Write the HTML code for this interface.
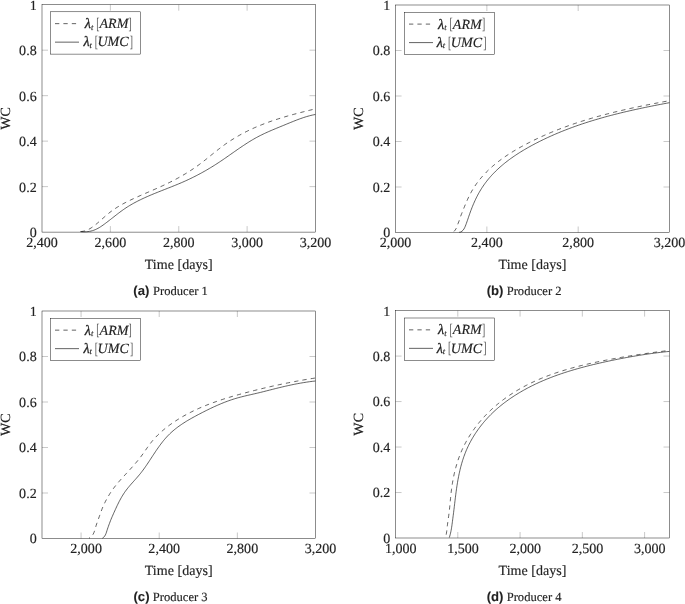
<!DOCTYPE html>
<html><head><meta charset="utf-8"><style>
html,body{margin:0;padding:0;background:#fff;}
svg{display:block;will-change:transform;}
text{text-rendering:geometricPrecision;}
.t{font-family:"Liberation Serif",serif;font-size:141.0px;fill:#222;stroke:#222;stroke-width:1.5px;}
.lt{font-family:"Liberation Serif",serif;font-size:141.0px;fill:#222;stroke:#222;stroke-width:1.5px;}
.it{font-style:italic;}
.sub{font-size:85.0px;}
.lam{font-size:143.0px;stroke-width:3.0px;}
.br{font-size:163.0px;stroke-width:0;fill:#555;}
.cap{font-family:"Liberation Serif",serif;font-size:126.0px;fill:#222;stroke:#222;stroke-width:1.5px;}
.bs{font-family:"Liberation Sans",sans-serif;font-weight:bold;font-size:132.0px;fill:#222;stroke:#222;stroke-width:0.75px;}
.ax{fill:none;stroke:#000;stroke-width:0.45;}
.lg{fill:#fff;stroke:#000;stroke-width:0.45;}
.tk{stroke:#777;stroke-width:0.4;}
.cs{fill:none;stroke:#000;stroke-width:0.62;stroke-linejoin:round;}
.cd{fill:none;stroke:#000;stroke-width:0.62;stroke-dasharray:4.3 4.1;stroke-linejoin:round;}
</style></head><body>
<svg width="685" height="604" viewBox="0 0 685 604">
<line x1="110.38" y1="232.10" x2="110.38" y2="226.10" class="tk"/>
<line x1="110.38" y1="4.70" x2="110.38" y2="10.70" class="tk"/>
<line x1="178.75" y1="232.10" x2="178.75" y2="226.10" class="tk"/>
<line x1="178.75" y1="4.70" x2="178.75" y2="10.70" class="tk"/>
<line x1="247.12" y1="232.10" x2="247.12" y2="226.10" class="tk"/>
<line x1="247.12" y1="4.70" x2="247.12" y2="10.70" class="tk"/>
<line x1="42.00" y1="186.62" x2="48.00" y2="186.62" class="tk"/>
<line x1="315.50" y1="186.62" x2="309.50" y2="186.62" class="tk"/>
<line x1="42.00" y1="141.14" x2="48.00" y2="141.14" class="tk"/>
<line x1="315.50" y1="141.14" x2="309.50" y2="141.14" class="tk"/>
<line x1="42.00" y1="95.66" x2="48.00" y2="95.66" class="tk"/>
<line x1="315.50" y1="95.66" x2="309.50" y2="95.66" class="tk"/>
<line x1="42.00" y1="50.18" x2="48.00" y2="50.18" class="tk"/>
<line x1="315.50" y1="50.18" x2="309.50" y2="50.18" class="tk"/>
<path d="M80.01,231.62 L81.56,231.53 L83.06,231.32 L84.52,230.98 L85.94,230.53 L87.32,229.99 L88.67,229.35 L89.98,228.63 L91.27,227.84 L92.52,227.00 L93.76,226.10 L94.97,225.16 L96.16,224.20 L97.34,223.21 L98.50,222.21 L99.65,221.21 L100.80,220.19 L101.93,219.18 L103.07,218.16 L104.21,217.15 L105.35,216.15 L106.49,215.16 L107.65,214.19 L108.81,213.23 L109.99,212.29 L111.18,211.38 L112.39,210.49 L113.62,209.62 L114.86,208.78 L116.11,207.95 L117.38,207.15 L118.66,206.37 L119.95,205.60 L121.25,204.85 L122.56,204.12 L123.89,203.40 L125.22,202.69 L126.56,202.00 L127.91,201.32 L129.26,200.66 L130.62,200.00 L131.99,199.35 L133.36,198.71 L134.74,198.08 L136.12,197.45 L137.50,196.83 L138.88,196.21 L140.27,195.60 L141.66,194.99 L143.05,194.38 L144.44,193.78 L145.83,193.17 L147.22,192.57 L148.61,191.96 L150.00,191.36 L151.39,190.75 L152.78,190.15 L154.17,189.54 L155.56,188.93 L156.95,188.31 L158.34,187.69 L159.72,187.07 L161.10,186.44 L162.48,185.81 L163.86,185.17 L165.24,184.52 L166.61,183.87 L167.98,183.21 L169.35,182.54 L170.71,181.86 L172.07,181.17 L173.43,180.47 L174.78,179.77 L176.12,179.05 L177.47,178.33 L178.80,177.59 L180.13,176.85 L181.46,176.10 L182.78,175.33 L184.10,174.56 L185.41,173.77 L186.71,172.98 L188.00,172.18 L189.29,171.36 L190.58,170.54 L191.85,169.70 L193.12,168.86 L194.38,168.00 L195.63,167.13 L196.87,166.26 L198.11,165.37 L199.34,164.47 L200.55,163.55 L201.76,162.63 L202.97,161.71 L204.17,160.77 L205.36,159.83 L206.55,158.88 L207.74,157.93 L208.92,156.98 L210.10,156.03 L211.28,155.07 L212.46,154.12 L213.64,153.17 L214.82,152.22 L216.01,151.27 L217.19,150.33 L218.38,149.40 L219.58,148.47 L220.77,147.55 L221.98,146.64 L223.19,145.74 L224.41,144.85 L225.63,143.98 L226.87,143.12 L228.11,142.26 L229.36,141.43 L230.62,140.60 L231.88,139.79 L233.16,138.99 L234.44,138.20 L235.73,137.42 L237.02,136.66 L238.32,135.90 L239.63,135.16 L240.95,134.43 L242.27,133.71 L243.60,133.01 L244.94,132.31 L246.28,131.63 L247.64,130.96 L248.99,130.29 L250.35,129.64 L251.72,129.00 L253.10,128.38 L254.48,127.76 L255.87,127.15 L257.26,126.56 L258.66,125.97 L260.06,125.39 L261.47,124.83 L262.88,124.27 L264.30,123.72 L265.72,123.19 L267.15,122.66 L268.58,122.14 L270.02,121.63 L271.45,121.12 L272.90,120.63 L274.34,120.14 L275.79,119.66 L277.24,119.19 L278.69,118.73 L280.15,118.27 L281.61,117.82 L283.07,117.38 L284.53,116.94 L285.99,116.51 L287.46,116.09 L288.92,115.67 L290.39,115.25 L291.86,114.85 L293.33,114.44 L294.80,114.05 L296.27,113.66 L297.74,113.27 L299.21,112.88 L300.68,112.51 L302.14,112.13 L303.61,111.76 L305.08,111.39 L306.54,111.03 L308.01,110.67 L309.47,110.31 L310.93,109.95 L312.39,109.60 L313.85,109.25 L315.30,108.90" class="cd" stroke-dashoffset="-0.8"/>
<path d="M80.40,231.60 L81.93,231.72 L83.46,231.79 L84.98,231.79 L86.50,231.72 L88.00,231.59 L89.49,231.37 L90.97,231.07 L92.42,230.69 L93.85,230.21 L95.25,229.66 L96.62,229.03 L97.96,228.33 L99.28,227.58 L100.57,226.77 L101.84,225.93 L103.10,225.06 L104.34,224.16 L105.56,223.25 L106.78,222.33 L107.99,221.41 L109.18,220.48 L110.38,219.55 L111.56,218.62 L112.75,217.69 L113.93,216.76 L115.11,215.83 L116.30,214.91 L117.48,213.99 L118.67,213.08 L119.87,212.18 L121.07,211.29 L122.28,210.41 L123.49,209.55 L124.72,208.70 L125.96,207.87 L127.22,207.05 L128.49,206.25 L129.77,205.47 L131.06,204.71 L132.36,203.96 L133.68,203.22 L135.01,202.50 L136.34,201.80 L137.69,201.10 L139.04,200.42 L140.41,199.75 L141.78,199.09 L143.16,198.44 L144.54,197.81 L145.93,197.18 L147.33,196.56 L148.74,195.95 L150.14,195.34 L151.56,194.74 L152.98,194.15 L154.40,193.57 L155.82,192.99 L157.25,192.41 L158.68,191.84 L160.11,191.27 L161.54,190.70 L162.97,190.14 L164.40,189.58 L165.83,189.02 L167.26,188.45 L168.69,187.89 L170.11,187.33 L171.54,186.76 L172.96,186.20 L174.38,185.62 L175.79,185.05 L177.20,184.47 L178.60,183.89 L180.00,183.30 L181.39,182.71 L182.78,182.11 L184.15,181.50 L185.53,180.88 L186.89,180.26 L188.25,179.63 L189.60,178.99 L190.94,178.35 L192.28,177.69 L193.62,177.03 L194.95,176.36 L196.27,175.69 L197.59,175.00 L198.90,174.31 L200.21,173.61 L201.52,172.90 L202.82,172.18 L204.11,171.45 L205.41,170.72 L206.70,169.98 L207.98,169.22 L209.26,168.46 L210.54,167.69 L211.82,166.92 L213.10,166.13 L214.37,165.33 L215.64,164.52 L216.91,163.71 L218.17,162.89 L219.44,162.05 L220.70,161.21 L221.97,160.36 L223.23,159.50 L224.49,158.63 L225.75,157.76 L227.01,156.88 L228.27,156.00 L229.53,155.12 L230.80,154.23 L232.06,153.35 L233.32,152.46 L234.59,151.57 L235.85,150.69 L237.12,149.81 L238.39,148.93 L239.66,148.06 L240.93,147.19 L242.21,146.33 L243.49,145.47 L244.77,144.63 L246.05,143.79 L247.34,142.96 L248.63,142.15 L249.92,141.35 L251.22,140.56 L252.52,139.78 L253.83,139.02 L255.14,138.27 L256.46,137.55 L257.78,136.83 L259.10,136.14 L260.43,135.46 L261.77,134.80 L263.11,134.15 L264.45,133.51 L265.80,132.89 L267.15,132.27 L268.51,131.66 L269.87,131.07 L271.24,130.48 L272.61,129.89 L273.98,129.31 L275.36,128.74 L276.74,128.16 L278.13,127.59 L279.52,127.02 L280.91,126.45 L282.31,125.88 L283.71,125.30 L285.11,124.72 L286.52,124.14 L287.93,123.56 L289.35,122.98 L290.77,122.39 L292.19,121.82 L293.61,121.24 L295.04,120.68 L296.47,120.12 L297.90,119.57 L299.34,119.04 L300.78,118.52 L302.22,118.02 L303.66,117.53 L305.11,117.06 L306.56,116.62 L308.01,116.20 L309.46,115.80 L310.92,115.43 L312.38,115.08 L313.84,114.77 L315.30,114.49" class="cs"/>
<rect x="42.00" y="4.70" width="273.50" height="227.40" class="ax"/>
<rect x="50.50" y="11.80" width="90" height="42.3" class="lg"/>
<line x1="55.00" y1="23.65" x2="76.50" y2="23.65" class="cd lgl"/>
<line x1="55.00" y1="42.15" x2="79.00" y2="42.15" class="cs lgl"/>
<line x1="486.87" y1="232.50" x2="486.87" y2="226.50" class="tk"/>
<line x1="486.87" y1="5.00" x2="486.87" y2="11.00" class="tk"/>
<line x1="578.18" y1="232.50" x2="578.18" y2="226.50" class="tk"/>
<line x1="578.18" y1="5.00" x2="578.18" y2="11.00" class="tk"/>
<line x1="395.55" y1="187.00" x2="401.55" y2="187.00" class="tk"/>
<line x1="669.50" y1="187.00" x2="663.50" y2="187.00" class="tk"/>
<line x1="395.55" y1="141.50" x2="401.55" y2="141.50" class="tk"/>
<line x1="669.50" y1="141.50" x2="663.50" y2="141.50" class="tk"/>
<line x1="395.55" y1="96.00" x2="401.55" y2="96.00" class="tk"/>
<line x1="669.50" y1="96.00" x2="663.50" y2="96.00" class="tk"/>
<line x1="395.55" y1="50.50" x2="401.55" y2="50.50" class="tk"/>
<line x1="669.50" y1="50.50" x2="663.50" y2="50.50" class="tk"/>
<path d="M452.90,232.30 L454.16,231.28 L455.15,230.14 L455.93,228.90 L456.56,227.58 L457.10,226.21 L457.61,224.79 L458.13,223.36 L458.70,221.92 L459.24,220.49 L459.72,219.06 L460.18,217.64 L460.67,216.23 L461.20,214.82 L461.76,213.41 L462.33,211.99 L462.90,210.57 L463.47,209.15 L464.04,207.73 L464.62,206.31 L465.20,204.89 L465.80,203.48 L466.40,202.07 L467.02,200.67 L467.64,199.28 L468.28,197.89 L468.94,196.52 L469.61,195.16 L470.31,193.82 L471.02,192.48 L471.75,191.17 L472.51,189.87 L473.28,188.59 L474.08,187.32 L474.90,186.07 L475.74,184.84 L476.59,183.62 L477.47,182.42 L478.37,181.24 L479.28,180.07 L480.22,178.91 L481.17,177.77 L482.14,176.65 L483.13,175.54 L484.13,174.44 L485.15,173.36 L486.18,172.29 L487.24,171.24 L488.30,170.20 L489.38,169.18 L490.48,168.16 L491.59,167.16 L492.71,166.18 L493.85,165.20 L495.00,164.24 L496.17,163.29 L497.34,162.36 L498.53,161.43 L499.73,160.52 L500.93,159.62 L502.15,158.73 L503.38,157.85 L504.63,156.98 L505.87,156.13 L507.13,155.28 L508.40,154.44 L509.68,153.62 L510.96,152.80 L512.25,152.00 L513.55,151.20 L514.86,150.42 L516.17,149.64 L517.49,148.88 L518.81,148.12 L520.14,147.37 L521.47,146.63 L522.81,145.90 L524.15,145.17 L525.50,144.46 L526.85,143.75 L528.20,143.05 L529.55,142.36 L530.91,141.67 L532.27,140.99 L533.63,140.32 L535.00,139.66 L536.37,139.00 L537.74,138.35 L539.11,137.71 L540.49,137.08 L541.86,136.45 L543.24,135.83 L544.62,135.21 L546.01,134.60 L547.40,134.00 L548.78,133.41 L550.18,132.82 L551.57,132.24 L552.97,131.66 L554.36,131.09 L555.76,130.53 L557.17,129.98 L558.57,129.43 L559.98,128.88 L561.38,128.34 L562.79,127.81 L564.21,127.29 L565.62,126.77 L567.04,126.25 L568.46,125.74 L569.88,125.24 L571.30,124.74 L572.72,124.25 L574.15,123.76 L575.57,123.28 L577.00,122.81 L578.43,122.33 L579.87,121.87 L581.30,121.41 L582.73,120.95 L584.17,120.50 L585.61,120.06 L587.05,119.62 L588.49,119.18 L589.94,118.75 L591.38,118.32 L592.83,117.90 L594.28,117.48 L595.73,117.07 L597.18,116.66 L598.63,116.26 L600.08,115.86 L601.54,115.46 L602.99,115.07 L604.45,114.68 L605.91,114.30 L607.37,113.92 L608.83,113.55 L610.29,113.17 L611.75,112.81 L613.22,112.44 L614.68,112.08 L616.15,111.72 L617.61,111.37 L619.08,111.02 L620.55,110.67 L622.02,110.33 L623.49,109.99 L624.96,109.65 L626.44,109.32 L627.91,108.99 L629.39,108.66 L630.86,108.33 L632.34,108.01 L633.81,107.69 L635.29,107.38 L636.77,107.06 L638.25,106.75 L639.73,106.44 L641.21,106.14 L642.69,105.83 L644.17,105.53 L645.65,105.23 L647.13,104.93 L648.61,104.64 L650.10,104.35 L651.58,104.06 L653.06,103.77 L654.55,103.48 L656.03,103.19 L657.52,102.91 L659.00,102.63 L660.49,102.35 L661.97,102.07 L663.46,101.79 L664.94,101.52 L666.43,101.24 L667.91,100.97 L669.40,100.70" class="cd" stroke-dashoffset="-1.2"/>
<path d="M459.21,232.30 L460.74,231.99 L462.01,231.26 L463.06,230.23 L463.94,228.99 L464.66,227.65 L465.29,226.25 L465.85,224.81 L466.38,223.37 L466.89,221.94 L467.39,220.51 L467.88,219.09 L468.36,217.66 L468.84,216.24 L469.33,214.82 L469.83,213.40 L470.34,211.98 L470.87,210.56 L471.41,209.13 L471.96,207.71 L472.53,206.29 L473.11,204.87 L473.72,203.46 L474.33,202.06 L474.97,200.66 L475.62,199.27 L476.29,197.88 L476.98,196.51 L477.68,195.15 L478.40,193.81 L479.15,192.48 L479.91,191.16 L480.69,189.86 L481.50,188.57 L482.32,187.30 L483.16,186.05 L484.02,184.81 L484.90,183.59 L485.79,182.39 L486.71,181.20 L487.64,180.03 L488.59,178.87 L489.56,177.73 L490.54,176.60 L491.54,175.49 L492.55,174.39 L493.58,173.31 L494.63,172.24 L495.69,171.18 L496.76,170.14 L497.85,169.11 L498.95,168.10 L500.07,167.09 L501.19,166.11 L502.33,165.13 L503.49,164.17 L504.65,163.21 L505.83,162.28 L507.02,161.35 L508.21,160.43 L509.42,159.53 L510.64,158.64 L511.87,157.76 L513.11,156.89 L514.36,156.03 L515.61,155.19 L516.88,154.35 L518.15,153.52 L519.43,152.71 L520.72,151.90 L522.01,151.11 L523.31,150.32 L524.62,149.54 L525.94,148.78 L527.25,148.02 L528.58,147.27 L529.91,146.53 L531.24,145.79 L532.58,145.07 L533.92,144.35 L535.27,143.65 L536.62,142.95 L537.97,142.25 L539.32,141.57 L540.68,140.89 L542.04,140.22 L543.41,139.56 L544.77,138.91 L546.14,138.26 L547.52,137.62 L548.89,136.99 L550.27,136.36 L551.65,135.74 L553.03,135.13 L554.42,134.53 L555.81,133.93 L557.20,133.34 L558.60,132.75 L559.99,132.17 L561.39,131.60 L562.80,131.04 L564.20,130.48 L565.61,129.93 L567.02,129.38 L568.43,128.84 L569.84,128.31 L571.26,127.78 L572.68,127.26 L574.10,126.74 L575.52,126.24 L576.95,125.73 L578.37,125.23 L579.80,124.74 L581.23,124.25 L582.67,123.77 L584.10,123.30 L585.54,122.83 L586.98,122.36 L588.42,121.90 L589.86,121.45 L591.31,121.00 L592.75,120.55 L594.20,120.12 L595.65,119.68 L597.10,119.25 L598.55,118.83 L600.01,118.41 L601.46,117.99 L602.92,117.58 L604.38,117.17 L605.84,116.77 L607.30,116.37 L608.76,115.98 L610.22,115.59 L611.69,115.21 L613.15,114.83 L614.62,114.45 L616.09,114.08 L617.56,113.71 L619.03,113.34 L620.50,112.98 L621.98,112.62 L623.45,112.27 L624.92,111.92 L626.40,111.57 L627.87,111.23 L629.35,110.89 L630.83,110.55 L632.31,110.21 L633.79,109.88 L635.27,109.56 L636.75,109.23 L638.23,108.91 L639.71,108.59 L641.19,108.27 L642.67,107.96 L644.16,107.65 L645.64,107.34 L647.12,107.03 L648.61,106.73 L650.09,106.43 L651.58,106.13 L653.06,105.84 L654.55,105.54 L656.03,105.25 L657.52,104.96 L659.00,104.67 L660.49,104.38 L661.97,104.10 L663.46,103.82 L664.94,103.53 L666.43,103.25 L667.92,102.98 L669.40,102.70" class="cs"/>
<rect x="395.55" y="5.00" width="273.95" height="227.50" class="ax"/>
<rect x="404.50" y="12.25" width="90" height="42.3" class="lg"/>
<line x1="409.00" y1="24.10" x2="430.50" y2="24.10" class="cd lgl"/>
<line x1="409.00" y1="42.60" x2="433.00" y2="42.60" class="cs lgl"/>
<line x1="81.07" y1="538.50" x2="81.07" y2="532.50" class="tk"/>
<line x1="81.07" y1="311.00" x2="81.07" y2="317.00" class="tk"/>
<line x1="159.21" y1="538.50" x2="159.21" y2="532.50" class="tk"/>
<line x1="159.21" y1="311.00" x2="159.21" y2="317.00" class="tk"/>
<line x1="237.36" y1="538.50" x2="237.36" y2="532.50" class="tk"/>
<line x1="237.36" y1="311.00" x2="237.36" y2="317.00" class="tk"/>
<line x1="42.00" y1="493.00" x2="48.00" y2="493.00" class="tk"/>
<line x1="315.50" y1="493.00" x2="309.50" y2="493.00" class="tk"/>
<line x1="42.00" y1="447.50" x2="48.00" y2="447.50" class="tk"/>
<line x1="315.50" y1="447.50" x2="309.50" y2="447.50" class="tk"/>
<line x1="42.00" y1="402.00" x2="48.00" y2="402.00" class="tk"/>
<line x1="315.50" y1="402.00" x2="309.50" y2="402.00" class="tk"/>
<line x1="42.00" y1="356.50" x2="48.00" y2="356.50" class="tk"/>
<line x1="315.50" y1="356.50" x2="309.50" y2="356.50" class="tk"/>
<path d="M89.11,538.11 L90.45,537.40 L91.58,536.42 L92.51,535.25 L93.29,533.94 L93.93,532.56 L94.48,531.14 L94.95,529.71 L95.37,528.26 L95.78,526.80 L96.20,525.34 L96.66,523.89 L97.16,522.44 L97.67,520.99 L98.20,519.56 L98.73,518.12 L99.25,516.70 L99.75,515.28 L100.25,513.86 L100.75,512.44 L101.26,511.04 L101.79,509.63 L102.34,508.23 L102.92,506.83 L103.53,505.44 L104.16,504.05 L104.83,502.67 L105.51,501.30 L106.23,499.94 L106.96,498.59 L107.72,497.25 L108.50,495.92 L109.30,494.61 L110.12,493.31 L110.96,492.03 L111.82,490.77 L112.69,489.52 L113.58,488.29 L114.49,487.09 L115.41,485.90 L116.35,484.73 L117.30,483.58 L118.26,482.45 L119.23,481.32 L120.21,480.21 L121.20,479.10 L122.20,477.99 L123.20,476.89 L124.22,475.79 L125.24,474.69 L126.26,473.58 L127.28,472.47 L128.31,471.35 L129.34,470.23 L130.37,469.10 L131.39,467.97 L132.41,466.83 L133.43,465.68 L134.44,464.53 L135.44,463.37 L136.43,462.20 L137.41,461.03 L138.38,459.85 L139.33,458.66 L140.27,457.46 L141.19,456.25 L142.10,455.03 L142.99,453.81 L143.86,452.58 L144.73,451.34 L145.59,450.11 L146.45,448.87 L147.32,447.64 L148.19,446.41 L149.07,445.20 L149.97,443.99 L150.88,442.80 L151.81,441.62 L152.77,440.46 L153.76,439.32 L154.77,438.19 L155.80,437.09 L156.85,435.99 L157.92,434.92 L159.02,433.86 L160.13,432.82 L161.26,431.80 L162.41,430.79 L163.57,429.80 L164.75,428.82 L165.94,427.86 L167.15,426.92 L168.37,425.99 L169.60,425.07 L170.85,424.18 L172.10,423.29 L173.36,422.43 L174.63,421.57 L175.91,420.74 L177.20,419.91 L178.49,419.10 L179.79,418.31 L181.09,417.53 L182.39,416.76 L183.71,416.01 L185.03,415.27 L186.35,414.55 L187.68,413.83 L189.01,413.13 L190.35,412.44 L191.70,411.77 L193.04,411.10 L194.40,410.45 L195.76,409.81 L197.12,409.18 L198.49,408.56 L199.86,407.95 L201.23,407.36 L202.61,406.77 L204.00,406.19 L205.39,405.63 L206.78,405.07 L208.18,404.52 L209.58,403.98 L210.98,403.45 L212.39,402.93 L213.80,402.41 L215.22,401.91 L216.64,401.41 L218.06,400.92 L219.48,400.44 L220.91,399.96 L222.34,399.49 L223.78,399.03 L225.22,398.58 L226.66,398.13 L228.10,397.68 L229.55,397.25 L231.00,396.81 L232.45,396.39 L233.90,395.97 L235.36,395.55 L236.82,395.14 L238.28,394.73 L239.75,394.32 L241.21,393.92 L242.68,393.53 L244.15,393.13 L245.62,392.74 L247.09,392.36 L248.57,391.97 L250.04,391.59 L251.52,391.21 L253.00,390.83 L254.48,390.46 L255.97,390.09 L257.45,389.72 L258.93,389.36 L260.42,388.99 L261.91,388.63 L263.39,388.28 L264.88,387.92 L266.37,387.57 L267.86,387.23 L269.35,386.88 L270.84,386.54 L272.33,386.20 L273.83,385.87 L275.32,385.54 L276.81,385.21 L278.30,384.89 L279.79,384.57 L281.29,384.25 L282.78,383.94 L284.27,383.63 L285.76,383.32 L287.25,383.02 L288.74,382.72 L290.23,382.42 L291.72,382.13 L293.21,381.84 L294.70,381.56 L296.19,381.28 L297.67,381.00 L299.16,380.73 L300.64,380.46 L302.12,380.20 L303.60,379.93 L305.08,379.68 L306.56,379.43 L308.04,379.18 L309.52,378.93 L310.99,378.69 L312.46,378.46 L313.93,378.23 L315.40,378.00" class="cd" stroke-dashoffset="3.3"/>
<path d="M102.40,538.21 L103.68,537.27 L104.66,536.15 L105.41,534.89 L106.00,533.53 L106.49,532.11 L106.95,530.65 L107.41,529.20 L107.90,527.75 L108.41,526.31 L108.92,524.88 L109.44,523.46 L109.97,522.05 L110.51,520.65 L111.07,519.25 L111.65,517.86 L112.25,516.47 L112.86,515.09 L113.48,513.71 L114.09,512.34 L114.71,510.97 L115.32,509.61 L115.94,508.25 L116.57,506.90 L117.20,505.56 L117.85,504.22 L118.50,502.89 L119.17,501.56 L119.86,500.25 L120.57,498.94 L121.30,497.64 L122.05,496.35 L122.83,495.08 L123.64,493.81 L124.48,492.55 L125.35,491.31 L126.25,490.08 L127.19,488.85 L128.16,487.64 L129.16,486.44 L130.17,485.25 L131.20,484.07 L132.25,482.90 L133.29,481.73 L134.34,480.56 L135.38,479.40 L136.41,478.24 L137.42,477.08 L138.42,475.93 L139.38,474.77 L140.33,473.62 L141.24,472.46 L142.14,471.30 L143.01,470.13 L143.87,468.96 L144.72,467.78 L145.55,466.59 L146.38,465.40 L147.19,464.20 L148.01,462.98 L148.82,461.76 L149.64,460.52 L150.46,459.27 L151.28,458.01 L152.10,456.75 L152.93,455.48 L153.77,454.21 L154.61,452.94 L155.46,451.66 L156.32,450.39 L157.19,449.13 L158.07,447.86 L158.97,446.61 L159.87,445.36 L160.79,444.13 L161.72,442.91 L162.66,441.70 L163.62,440.51 L164.60,439.34 L165.59,438.19 L166.61,437.06 L167.64,435.96 L168.69,434.88 L169.76,433.82 L170.86,432.79 L171.97,431.78 L173.09,430.80 L174.24,429.84 L175.40,428.90 L176.58,427.98 L177.77,427.07 L178.98,426.19 L180.20,425.33 L181.43,424.48 L182.68,423.64 L183.94,422.83 L185.20,422.02 L186.48,421.23 L187.77,420.45 L189.07,419.69 L190.38,418.93 L191.70,418.19 L193.02,417.45 L194.35,416.72 L195.69,416.00 L197.03,415.28 L198.37,414.57 L199.72,413.86 L201.07,413.16 L202.43,412.46 L203.79,411.77 L205.15,411.08 L206.51,410.40 L207.88,409.72 L209.25,409.06 L210.63,408.39 L212.01,407.74 L213.39,407.09 L214.77,406.46 L216.16,405.83 L217.55,405.22 L218.94,404.61 L220.34,404.02 L221.74,403.43 L223.14,402.87 L224.54,402.31 L225.95,401.77 L227.36,401.24 L228.78,400.72 L230.19,400.23 L231.62,399.74 L233.04,399.28 L234.46,398.83 L235.89,398.40 L237.33,397.98 L238.76,397.58 L240.20,397.20 L241.64,396.83 L243.08,396.46 L244.53,396.11 L245.98,395.76 L247.43,395.42 L248.88,395.09 L250.33,394.75 L251.79,394.42 L253.25,394.09 L254.71,393.75 L256.18,393.41 L257.64,393.07 L259.11,392.72 L260.58,392.36 L262.05,392.00 L263.52,391.63 L264.99,391.26 L266.47,390.88 L267.94,390.51 L269.42,390.13 L270.90,389.76 L272.38,389.38 L273.86,389.01 L275.34,388.63 L276.82,388.27 L278.30,387.90 L279.79,387.54 L281.27,387.19 L282.75,386.84 L284.24,386.49 L285.73,386.15 L287.21,385.82 L288.70,385.49 L290.18,385.17 L291.67,384.85 L293.16,384.54 L294.64,384.24 L296.13,383.95 L297.61,383.67 L299.10,383.39 L300.59,383.12 L302.07,382.86 L303.55,382.61 L305.04,382.38 L306.52,382.15 L308.00,381.93 L309.48,381.72 L310.96,381.52 L312.44,381.34 L313.92,381.16 L315.40,381.00" class="cs"/>
<rect x="42.00" y="311.00" width="273.50" height="227.50" class="ax"/>
<rect x="50.50" y="318.30" width="90" height="42.3" class="lg"/>
<line x1="55.00" y1="330.15" x2="76.50" y2="330.15" class="cd lgl"/>
<line x1="55.00" y1="348.65" x2="79.00" y2="348.65" class="cs lgl"/>
<line x1="457.81" y1="538.00" x2="457.81" y2="532.00" class="tk"/>
<line x1="457.81" y1="310.60" x2="457.81" y2="316.60" class="tk"/>
<line x1="520.07" y1="538.00" x2="520.07" y2="532.00" class="tk"/>
<line x1="520.07" y1="310.60" x2="520.07" y2="316.60" class="tk"/>
<line x1="582.33" y1="538.00" x2="582.33" y2="532.00" class="tk"/>
<line x1="582.33" y1="310.60" x2="582.33" y2="316.60" class="tk"/>
<line x1="644.60" y1="538.00" x2="644.60" y2="532.00" class="tk"/>
<line x1="644.60" y1="310.60" x2="644.60" y2="316.60" class="tk"/>
<line x1="395.55" y1="492.52" x2="401.55" y2="492.52" class="tk"/>
<line x1="669.50" y1="492.52" x2="663.50" y2="492.52" class="tk"/>
<line x1="395.55" y1="447.04" x2="401.55" y2="447.04" class="tk"/>
<line x1="669.50" y1="447.04" x2="663.50" y2="447.04" class="tk"/>
<line x1="395.55" y1="401.56" x2="401.55" y2="401.56" class="tk"/>
<line x1="669.50" y1="401.56" x2="663.50" y2="401.56" class="tk"/>
<line x1="395.55" y1="356.08" x2="401.55" y2="356.08" class="tk"/>
<line x1="669.50" y1="356.08" x2="663.50" y2="356.08" class="tk"/>
<path d="M445.51,537.59 L445.87,536.12 L446.18,534.65 L446.44,533.17 L446.66,531.69 L446.84,530.21 L447.02,528.72 L447.18,527.24 L447.34,525.74 L447.52,524.25 L447.71,522.75 L447.92,521.26 L448.13,519.76 L448.34,518.26 L448.55,516.75 L448.76,515.25 L448.95,513.74 L449.14,512.24 L449.31,510.73 L449.48,509.22 L449.64,507.72 L449.79,506.21 L449.94,504.70 L450.08,503.19 L450.22,501.69 L450.37,500.18 L450.51,498.68 L450.66,497.17 L450.81,495.67 L450.97,494.17 L451.13,492.66 L451.31,491.17 L451.49,489.67 L451.69,488.17 L451.90,486.68 L452.11,485.19 L452.35,483.70 L452.59,482.22 L452.85,480.73 L453.12,479.26 L453.40,477.78 L453.70,476.31 L454.01,474.84 L454.34,473.37 L454.68,471.91 L455.03,470.46 L455.40,469.00 L455.79,467.56 L456.19,466.12 L456.61,464.68 L457.04,463.25 L457.49,461.82 L457.96,460.40 L458.45,458.98 L458.95,457.57 L459.47,456.17 L460.01,454.77 L460.56,453.38 L461.14,451.99 L461.73,450.62 L462.34,449.25 L462.98,447.88 L463.63,446.53 L464.30,445.18 L464.98,443.84 L465.69,442.50 L466.41,441.18 L467.15,439.86 L467.91,438.56 L468.69,437.26 L469.48,435.97 L470.29,434.69 L471.12,433.41 L471.96,432.15 L472.81,430.90 L473.69,429.66 L474.58,428.43 L475.48,427.20 L476.40,425.99 L477.33,424.79 L478.28,423.60 L479.24,422.42 L480.22,421.26 L481.21,420.10 L482.21,418.96 L483.22,417.82 L484.25,416.70 L485.29,415.60 L486.35,414.50 L487.41,413.42 L488.49,412.35 L489.58,411.29 L490.68,410.24 L491.79,409.21 L492.92,408.19 L494.05,407.18 L495.20,406.18 L496.35,405.20 L497.52,404.23 L498.69,403.27 L499.87,402.32 L501.07,401.39 L502.27,400.46 L503.48,399.55 L504.70,398.66 L505.93,397.77 L507.16,396.90 L508.40,396.04 L509.65,395.19 L510.91,394.35 L512.18,393.53 L513.45,392.71 L514.73,391.91 L516.01,391.13 L517.30,390.35 L518.60,389.59 L519.90,388.84 L521.21,388.10 L522.52,387.37 L523.84,386.65 L525.16,385.95 L526.49,385.26 L527.82,384.57 L529.16,383.90 L530.51,383.24 L531.85,382.60 L533.21,381.96 L534.57,381.33 L535.93,380.71 L537.30,380.10 L538.67,379.51 L540.04,378.92 L541.43,378.34 L542.81,377.77 L544.20,377.22 L545.59,376.67 L546.99,376.13 L548.39,375.60 L549.80,375.07 L551.20,374.56 L552.62,374.05 L554.03,373.56 L555.45,373.07 L556.88,372.59 L558.30,372.12 L559.73,371.65 L561.17,371.19 L562.60,370.74 L564.04,370.30 L565.48,369.87 L566.93,369.44 L568.38,369.02 L569.83,368.60 L571.28,368.20 L572.74,367.80 L574.20,367.40 L575.66,367.01 L577.13,366.63 L578.59,366.25 L580.06,365.88 L581.53,365.52 L583.00,365.16 L584.48,364.80 L585.96,364.45 L587.44,364.11 L588.92,363.77 L590.40,363.43 L591.88,363.10 L593.37,362.77 L594.85,362.45 L596.34,362.13 L597.83,361.82 L599.32,361.51 L600.82,361.20 L602.31,360.90 L603.80,360.60 L605.30,360.30 L606.80,360.01 L608.29,359.72 L609.79,359.44 L611.29,359.16 L612.79,358.88 L614.29,358.61 L615.79,358.33 L617.29,358.07 L618.79,357.80 L620.29,357.54 L621.79,357.28 L623.29,357.03 L624.79,356.77 L626.29,356.52 L627.79,356.28 L629.29,356.04 L630.79,355.79 L632.29,355.56 L633.79,355.32 L635.29,355.09 L636.78,354.86 L638.28,354.63 L639.77,354.41 L641.27,354.19 L642.76,353.97 L644.26,353.75 L645.75,353.54 L647.24,353.33 L648.73,353.12 L650.22,352.91 L651.70,352.70 L653.19,352.50 L654.67,352.30 L656.15,352.10 L657.63,351.90 L659.11,351.71 L660.59,351.52 L662.06,351.33 L663.53,351.14 L665.00,350.95 L666.47,350.76 L667.93,350.58 L669.40,350.40" class="cd" stroke-dashoffset="-3.0"/>
<path d="M449.30,537.60 L449.76,536.14 L450.16,534.68 L450.52,533.21 L450.85,531.74 L451.14,530.27 L451.40,528.79 L451.64,527.31 L451.86,525.83 L452.06,524.35 L452.26,522.86 L452.45,521.37 L452.65,519.88 L452.84,518.39 L453.03,516.89 L453.23,515.40 L453.42,513.90 L453.61,512.40 L453.79,510.90 L453.98,509.40 L454.16,507.90 L454.34,506.40 L454.51,504.89 L454.69,503.39 L454.87,501.89 L455.05,500.39 L455.23,498.89 L455.41,497.39 L455.60,495.89 L455.78,494.39 L455.98,492.89 L456.18,491.40 L456.38,489.90 L456.59,488.41 L456.81,486.92 L457.04,485.43 L457.27,483.95 L457.51,482.46 L457.76,480.98 L458.02,479.51 L458.30,478.03 L458.58,476.56 L458.87,475.09 L459.18,473.63 L459.50,472.17 L459.83,470.71 L460.17,469.26 L460.53,467.81 L460.90,466.37 L461.29,464.93 L461.69,463.49 L462.11,462.06 L462.55,460.64 L463.00,459.22 L463.47,457.81 L463.96,456.40 L464.47,455.00 L465.00,453.60 L465.54,452.22 L466.11,450.83 L466.70,449.46 L467.31,448.09 L467.94,446.73 L468.59,445.37 L469.26,444.03 L469.95,442.69 L470.66,441.36 L471.40,440.04 L472.15,438.72 L472.92,437.42 L473.71,436.12 L474.51,434.84 L475.34,433.56 L476.18,432.30 L477.04,431.04 L477.92,429.79 L478.81,428.56 L479.72,427.33 L480.65,426.12 L481.59,424.92 L482.55,423.73 L483.52,422.55 L484.51,421.39 L485.51,420.24 L486.53,419.10 L487.56,417.97 L488.61,416.86 L489.66,415.76 L490.74,414.67 L491.82,413.60 L492.91,412.54 L494.02,411.49 L495.14,410.46 L496.27,409.45 L497.42,408.45 L498.57,407.46 L499.73,406.48 L500.90,405.52 L502.09,404.57 L503.28,403.64 L504.48,402.71 L505.69,401.80 L506.91,400.91 L508.14,400.02 L509.38,399.15 L510.62,398.29 L511.87,397.45 L513.13,396.61 L514.39,395.79 L515.66,394.98 L516.94,394.18 L518.22,393.39 L519.51,392.62 L520.80,391.86 L522.10,391.10 L523.40,390.36 L524.71,389.63 L526.02,388.91 L527.34,388.20 L528.66,387.51 L529.99,386.82 L531.32,386.14 L532.66,385.48 L534.00,384.82 L535.34,384.17 L536.69,383.54 L538.05,382.91 L539.41,382.29 L540.77,381.68 L542.14,381.08 L543.51,380.50 L544.88,379.91 L546.26,379.34 L547.65,378.78 L549.03,378.23 L550.42,377.68 L551.82,377.14 L553.22,376.61 L554.62,376.09 L556.02,375.58 L557.43,375.07 L558.84,374.57 L560.26,374.08 L561.68,373.60 L563.10,373.12 L564.52,372.65 L565.95,372.19 L567.38,371.73 L568.81,371.28 L570.25,370.84 L571.69,370.41 L573.13,369.98 L574.57,369.55 L576.02,369.13 L577.47,368.72 L578.92,368.32 L580.38,367.91 L581.83,367.52 L583.29,367.13 L584.75,366.74 L586.21,366.36 L587.68,365.99 L589.15,365.62 L590.61,365.25 L592.08,364.89 L593.56,364.53 L595.03,364.18 L596.51,363.83 L597.98,363.48 L599.46,363.14 L600.94,362.81 L602.42,362.47 L603.91,362.14 L605.39,361.81 L606.87,361.49 L608.36,361.17 L609.85,360.85 L611.33,360.53 L612.82,360.22 L614.31,359.92 L615.80,359.61 L617.30,359.31 L618.79,359.02 L620.28,358.73 L621.77,358.44 L623.27,358.15 L624.76,357.87 L626.25,357.59 L627.75,357.32 L629.24,357.05 L630.74,356.79 L632.23,356.52 L633.72,356.27 L635.22,356.01 L636.71,355.77 L638.21,355.52 L639.70,355.28 L641.19,355.04 L642.68,354.81 L644.18,354.58 L645.67,354.36 L647.16,354.14 L648.65,353.93 L650.14,353.71 L651.63,353.51 L653.11,353.31 L654.60,353.11 L656.09,352.92 L657.57,352.73 L659.05,352.55 L660.54,352.37 L662.02,352.20 L663.50,352.03 L664.97,351.86 L666.45,351.70 L667.93,351.55 L669.40,351.40" class="cs"/>
<rect x="395.55" y="310.60" width="273.95" height="227.40" class="ax"/>
<rect x="404.50" y="318.00" width="90" height="42.3" class="lg"/>
<line x1="409.00" y1="329.85" x2="430.50" y2="329.85" class="cd lgl"/>
<line x1="409.00" y1="348.35" x2="433.00" y2="348.35" class="cs lgl"/>
<g >
<text transform="translate(42.00,246.90) scale(0.1)" text-anchor="middle" class="t">2,400</text>
<text transform="translate(110.38,246.90) scale(0.1)" text-anchor="middle" class="t">2,600</text>
<text transform="translate(178.75,246.90) scale(0.1)" text-anchor="middle" class="t">2,800</text>
<text transform="translate(247.12,246.90) scale(0.1)" text-anchor="middle" class="t">3,000</text>
<text transform="translate(315.50,246.90) scale(0.1)" text-anchor="middle" class="t">3,200</text>
<text transform="translate(36.70,237.00) scale(0.1)" text-anchor="end" class="t">0</text>
<text transform="translate(36.70,191.52) scale(0.1)" text-anchor="end" class="t">0.2</text>
<text transform="translate(36.70,146.04) scale(0.1)" text-anchor="end" class="t">0.4</text>
<text transform="translate(36.70,100.56) scale(0.1)" text-anchor="end" class="t">0.6</text>
<text transform="translate(36.70,55.08) scale(0.1)" text-anchor="end" class="t">0.8</text>
<text transform="translate(36.70,9.60) scale(0.1)" text-anchor="end" class="t">1</text>
<text transform="translate(84.70,28.10) scale(0.1)" text-anchor="start" class="lt it lam">λ</text>
<text transform="translate(90.90,29.70) scale(0.1)" text-anchor="start" class="lt it sub">t</text>
<text transform="translate(96.20,28.90) scale(0.0600,0.1)" text-anchor="start" class="lt br">[</text>
<text transform="translate(99.50,28.10) scale(0.1)" text-anchor="start" class="lt it">ARM</text>
<text transform="translate(128.55,28.90) scale(0.0600,0.1)" text-anchor="start" class="lt br">]</text>
<text transform="translate(83.45,46.30) scale(0.1)" text-anchor="start" class="lt it lam">λ</text>
<text transform="translate(89.50,47.90) scale(0.1)" text-anchor="start" class="lt it sub">t</text>
<text transform="translate(94.70,47.10) scale(0.0600,0.1)" text-anchor="start" class="lt br">[</text>
<text transform="translate(97.40,46.30) scale(0.1)" text-anchor="start" class="lt it">UMC</text>
<text transform="translate(129.85,47.10) scale(0.0600,0.1)" text-anchor="start" class="lt br">]</text>
<text transform="translate(178.75,268.90) scale(0.1)" text-anchor="middle" class="t">Time [days]</text>
<text transform="translate(9.80,118.40) rotate(-90) scale(0.1)" text-anchor="middle" class="t">WC</text>
<text transform="translate(133.24,294.80) scale(0.1)" text-anchor="start" class="bs">(a)</text>
<text transform="translate(152.94,294.80) scale(0.1)" text-anchor="start" class="cap">Producer 1</text>
<text transform="translate(395.55,247.30) scale(0.1)" text-anchor="middle" class="t">2,000</text>
<text transform="translate(486.87,247.30) scale(0.1)" text-anchor="middle" class="t">2,400</text>
<text transform="translate(578.18,247.30) scale(0.1)" text-anchor="middle" class="t">2,800</text>
<text transform="translate(669.50,247.30) scale(0.1)" text-anchor="middle" class="t">3,200</text>
<text transform="translate(390.25,237.40) scale(0.1)" text-anchor="end" class="t">0</text>
<text transform="translate(390.25,191.90) scale(0.1)" text-anchor="end" class="t">0.2</text>
<text transform="translate(390.25,146.40) scale(0.1)" text-anchor="end" class="t">0.4</text>
<text transform="translate(390.25,100.90) scale(0.1)" text-anchor="end" class="t">0.6</text>
<text transform="translate(390.25,55.40) scale(0.1)" text-anchor="end" class="t">0.8</text>
<text transform="translate(390.25,9.90) scale(0.1)" text-anchor="end" class="t">1</text>
<text transform="translate(438.05,28.55) scale(0.1)" text-anchor="start" class="lt it lam">λ</text>
<text transform="translate(444.25,30.15) scale(0.1)" text-anchor="start" class="lt it sub">t</text>
<text transform="translate(449.55,29.35) scale(0.0600,0.1)" text-anchor="start" class="lt br">[</text>
<text transform="translate(452.85,28.55) scale(0.1)" text-anchor="start" class="lt it">ARM</text>
<text transform="translate(481.90,29.35) scale(0.0600,0.1)" text-anchor="start" class="lt br">]</text>
<text transform="translate(436.80,46.75) scale(0.1)" text-anchor="start" class="lt it lam">λ</text>
<text transform="translate(442.85,48.35) scale(0.1)" text-anchor="start" class="lt it sub">t</text>
<text transform="translate(448.05,47.55) scale(0.0600,0.1)" text-anchor="start" class="lt br">[</text>
<text transform="translate(450.75,46.75) scale(0.1)" text-anchor="start" class="lt it">UMC</text>
<text transform="translate(483.20,47.55) scale(0.0600,0.1)" text-anchor="start" class="lt br">]</text>
<text transform="translate(532.52,269.30) scale(0.1)" text-anchor="middle" class="t">Time [days]</text>
<text transform="translate(363.35,118.75) rotate(-90) scale(0.1)" text-anchor="middle" class="t">WC</text>
<text transform="translate(486.64,295.20) scale(0.1)" text-anchor="start" class="bs">(b)</text>
<text transform="translate(506.64,295.20) scale(0.1)" text-anchor="start" class="cap">Producer 2</text>
<text transform="translate(86.07,553.30) scale(0.1)" text-anchor="middle" class="t">2,000</text>
<text transform="translate(164.21,553.30) scale(0.1)" text-anchor="middle" class="t">2,400</text>
<text transform="translate(242.36,553.30) scale(0.1)" text-anchor="middle" class="t">2,800</text>
<text transform="translate(320.50,553.30) scale(0.1)" text-anchor="middle" class="t">3,200</text>
<text transform="translate(36.70,543.40) scale(0.1)" text-anchor="end" class="t">0</text>
<text transform="translate(36.70,497.90) scale(0.1)" text-anchor="end" class="t">0.2</text>
<text transform="translate(36.70,452.40) scale(0.1)" text-anchor="end" class="t">0.4</text>
<text transform="translate(36.70,406.90) scale(0.1)" text-anchor="end" class="t">0.6</text>
<text transform="translate(36.70,361.40) scale(0.1)" text-anchor="end" class="t">0.8</text>
<text transform="translate(36.70,315.90) scale(0.1)" text-anchor="end" class="t">1</text>
<text transform="translate(84.75,334.60) scale(0.1)" text-anchor="start" class="lt it lam">λ</text>
<text transform="translate(90.95,336.20) scale(0.1)" text-anchor="start" class="lt it sub">t</text>
<text transform="translate(96.25,335.40) scale(0.0600,0.1)" text-anchor="start" class="lt br">[</text>
<text transform="translate(99.55,334.60) scale(0.1)" text-anchor="start" class="lt it">ARM</text>
<text transform="translate(128.60,335.40) scale(0.0600,0.1)" text-anchor="start" class="lt br">]</text>
<text transform="translate(83.50,352.80) scale(0.1)" text-anchor="start" class="lt it lam">λ</text>
<text transform="translate(89.55,354.40) scale(0.1)" text-anchor="start" class="lt it sub">t</text>
<text transform="translate(94.75,353.60) scale(0.0600,0.1)" text-anchor="start" class="lt br">[</text>
<text transform="translate(97.45,352.80) scale(0.1)" text-anchor="start" class="lt it">UMC</text>
<text transform="translate(129.90,353.60) scale(0.0600,0.1)" text-anchor="start" class="lt br">]</text>
<text transform="translate(178.75,575.30) scale(0.1)" text-anchor="middle" class="t">Time [days]</text>
<text transform="translate(9.80,424.75) rotate(-90) scale(0.1)" text-anchor="middle" class="t">WC</text>
<text transform="translate(133.44,601.20) scale(0.1)" text-anchor="start" class="bs">(c)</text>
<text transform="translate(152.74,601.20) scale(0.1)" text-anchor="start" class="cap">Producer 3</text>
<text transform="translate(400.75,552.80) scale(0.1)" text-anchor="middle" class="t">1,000</text>
<text transform="translate(463.01,552.80) scale(0.1)" text-anchor="middle" class="t">1,500</text>
<text transform="translate(525.27,552.80) scale(0.1)" text-anchor="middle" class="t">2,000</text>
<text transform="translate(587.53,552.80) scale(0.1)" text-anchor="middle" class="t">2,500</text>
<text transform="translate(649.80,552.80) scale(0.1)" text-anchor="middle" class="t">3,000</text>
<text transform="translate(390.25,542.90) scale(0.1)" text-anchor="end" class="t">0</text>
<text transform="translate(390.25,497.42) scale(0.1)" text-anchor="end" class="t">0.2</text>
<text transform="translate(390.25,451.94) scale(0.1)" text-anchor="end" class="t">0.4</text>
<text transform="translate(390.25,406.46) scale(0.1)" text-anchor="end" class="t">0.6</text>
<text transform="translate(390.25,360.98) scale(0.1)" text-anchor="end" class="t">0.8</text>
<text transform="translate(390.25,315.50) scale(0.1)" text-anchor="end" class="t">1</text>
<text transform="translate(438.05,334.30) scale(0.1)" text-anchor="start" class="lt it lam">λ</text>
<text transform="translate(444.25,335.90) scale(0.1)" text-anchor="start" class="lt it sub">t</text>
<text transform="translate(449.55,335.10) scale(0.0600,0.1)" text-anchor="start" class="lt br">[</text>
<text transform="translate(452.85,334.30) scale(0.1)" text-anchor="start" class="lt it">ARM</text>
<text transform="translate(481.90,335.10) scale(0.0600,0.1)" text-anchor="start" class="lt br">]</text>
<text transform="translate(436.80,352.50) scale(0.1)" text-anchor="start" class="lt it lam">λ</text>
<text transform="translate(442.85,354.10) scale(0.1)" text-anchor="start" class="lt it sub">t</text>
<text transform="translate(448.05,353.30) scale(0.0600,0.1)" text-anchor="start" class="lt br">[</text>
<text transform="translate(450.75,352.50) scale(0.1)" text-anchor="start" class="lt it">UMC</text>
<text transform="translate(483.20,353.30) scale(0.0600,0.1)" text-anchor="start" class="lt br">]</text>
<text transform="translate(532.52,574.80) scale(0.1)" text-anchor="middle" class="t">Time [days]</text>
<text transform="translate(363.35,424.30) rotate(-90) scale(0.1)" text-anchor="middle" class="t">WC</text>
<text transform="translate(486.64,600.70) scale(0.1)" text-anchor="start" class="bs">(d)</text>
<text transform="translate(506.64,600.70) scale(0.1)" text-anchor="start" class="cap">Producer 4</text>
</g>
</svg>
</body></html>
